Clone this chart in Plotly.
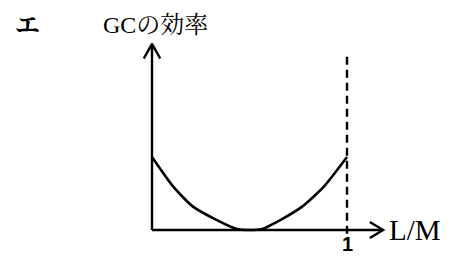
import plotly.graph_objects as go

# Data (L/M ratio vs. GC efficiency, arbitrary units)
lm_ratio = [0.0, 0.11, 0.21, 0.33, 0.44, 0.50, 0.56, 0.66, 0.77, 0.88, 1.0]
gc_eff = [1.0, 0.59, 0.32, 0.14, 0.01, 0.0, 0.01, 0.14, 0.32, 0.59, 1.0]
title_text = "GCの効率"
label_text = "エ"
x_label = "L/M"
tick_label = "1"

Y_TOP = 2.55
X_TIP = 1.185
DASH_TOP = 2.39

serif = "Liberation Serif, Noto Serif CJK JP, Noto Sans CJK JP, serif"

fig = go.Figure()

# axes
fig.add_trace(go.Scatter(x=[0, 0], y=[0, Y_TOP], mode="lines",
                         line=dict(color="black", width=2.4), hoverinfo="skip"))
fig.add_trace(go.Scatter(x=[-0.042, 0, 0.042], y=[Y_TOP - 0.2, Y_TOP, Y_TOP - 0.2], mode="lines",
                         line=dict(color="black", width=2.4), hoverinfo="skip"))
fig.add_trace(go.Scatter(x=[0, X_TIP], y=[0, 0], mode="lines",
                         line=dict(color="black", width=2.4), hoverinfo="skip"))
fig.add_trace(go.Scatter(x=[X_TIP - 0.068, X_TIP, X_TIP - 0.068], y=[0.11, 0, -0.11], mode="lines",
                         line=dict(color="black", width=2.4), hoverinfo="skip"))
# dashed line at L/M = 1
fig.add_trace(go.Scatter(x=[1, 1], y=[-0.05, DASH_TOP], mode="lines",
                         line=dict(color="black", width=2.4, dash="8px,5px"), hoverinfo="skip"))
# curve
fig.add_trace(go.Scatter(x=lm_ratio, y=gc_eff, mode="lines",
                         line=dict(color="black", width=2.6, shape="spline", smoothing=0.6),
                         hoverinfo="skip"))

fig.add_annotation(x=155 / 457, y=1 - 25 / 256, xref="paper", yref="paper", text=title_text,
                   showarrow=False, font=dict(family=serif, size=24, color="black"),
                   xanchor="center", yanchor="middle")
fig.add_annotation(x=27 / 457, y=1 - 25 / 256, xref="paper", yref="paper", text="<b>" + label_text + "</b>",
                   showarrow=False, font=dict(family=serif, size=25, color="black"),
                   xanchor="center", yanchor="middle")
fig.add_annotation(x=X_TIP + 0.02, y=0, xref="x", yref="y", text=x_label, showarrow=False,
                   font=dict(family=serif, size=29, color="black"), xanchor="left", yanchor="middle")
fig.add_annotation(x=1, y=-0.356, xref="x", yref="y", text="<b>" + tick_label + "</b>",
                   showarrow=False,
                   font=dict(family="Liberation Sans, sans-serif", size=20, color="black"),
                   xanchor="center", yanchor="bottom", borderpad=0)

fig.update_layout(
    width=457, height=256, margin=dict(l=0, r=0, t=0, b=0),
    paper_bgcolor="white", plot_bgcolor="white", showlegend=False,
    xaxis=dict(range=[-0.7795, 1.5641], visible=False, fixedrange=True),
    yaxis=dict(range=[-0.356, 3.151], visible=False, fixedrange=True),
)

fig.write_html("out.html", config={"displayModeBar": False},
               post_script="document.body.style.margin='0';document.body.style.overflow='hidden';")
